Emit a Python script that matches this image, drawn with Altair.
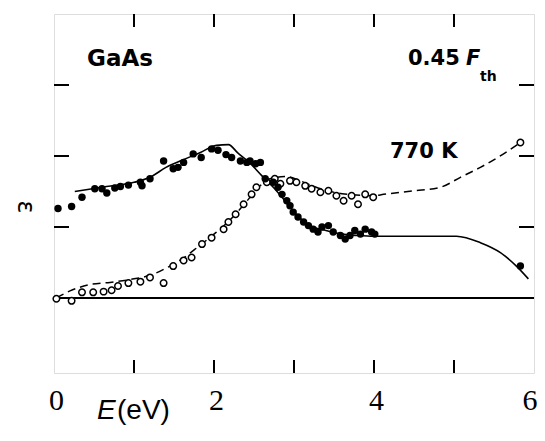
import altair as alt
import pandas as pd

# ---- data ----
# filled circles
filled_x = [0.05, 0.22, 0.35, 0.51, 0.60, 0.66, 0.76, 0.83, 0.93, 1.08, 1.10, 1.20, 1.37, 1.49, 1.55,
            1.62, 1.74, 1.84, 1.97, 2.05, 2.15, 2.22, 2.33, 2.41, 2.45, 2.52, 2.58,
            2.64, 2.74, 2.80, 2.85, 2.91, 2.95, 2.99, 3.05, 3.12, 3.18, 3.24, 3.30, 3.35,
            3.43, 3.49, 3.58, 3.64, 3.70, 3.76, 3.83, 3.89, 3.97, 4.01, 5.83]
filled_y = [1.26, 1.29, 1.42, 1.54, 1.54, 1.48, 1.55, 1.57, 1.59, 1.63, 1.58, 1.68, 1.93, 1.82, 1.84,
            1.91, 2.03, 1.98, 2.10, 2.08, 2.02, 1.98, 1.93, 1.91, 1.93, 1.89, 1.91,
            1.68, 1.63, 1.56, 1.46, 1.37, 1.30, 1.21, 1.14, 1.07, 1.02, 0.97, 0.93, 1.00,
            1.02, 0.93, 0.88, 0.83, 0.88, 0.95, 0.90, 0.97, 0.93, 0.90, 0.45]

# open circles
open_x = [0.03, 0.22, 0.35, 0.49, 0.62, 0.72, 0.80, 0.93, 1.08, 1.20, 1.37, 1.49, 1.62, 1.72,
          1.85, 1.97, 2.12, 2.18, 2.27, 2.37, 2.47, 2.53, 2.66, 2.76, 2.83, 2.95, 3.03,
          3.14, 3.22, 3.33, 3.43, 3.53, 3.62, 3.72, 3.80, 3.89, 3.99, 5.83]
open_y = [-0.01, -0.04, 0.08, 0.08, 0.09, 0.11, 0.17, 0.21, 0.23, 0.29, 0.21, 0.45, 0.53, 0.57,
          0.76, 0.85, 0.97, 1.07, 1.18, 1.32, 1.46, 1.56, 1.63, 1.68, 1.61, 1.65, 1.63,
          1.58, 1.54, 1.49, 1.51, 1.44, 1.37, 1.44, 1.32, 1.46, 1.42, 2.19]

# solid fitted curve
solid_x = [0.26, 0.60, 1.00, 1.20, 1.40, 1.60, 1.83, 2.03, 2.18, 2.30, 2.45, 2.60, 2.75, 2.90,
           3.05, 3.20, 3.40, 3.60, 3.80, 4.00, 4.50, 5.03, 5.33, 5.58, 5.78, 5.93]
solid_y = [1.50, 1.56, 1.63, 1.70, 1.84, 1.94, 2.05, 2.15, 2.16, 2.04, 1.90, 1.72, 1.55, 1.35,
           1.15, 1.02, 0.95, 0.90, 0.88, 0.87, 0.87, 0.87, 0.78, 0.64, 0.45, 0.27]

# dashed fitted curve
dash_x = [0.03, 0.20, 0.45, 0.70, 1.00, 1.20, 1.40, 1.60, 1.80, 2.00, 2.20, 2.40, 2.55, 2.70,
          2.90, 3.10, 3.30, 3.60, 4.00, 4.12, 4.49, 4.83, 5.08, 5.33, 5.62, 5.87]
dash_y = [0.00, 0.10, 0.19, 0.22, 0.27, 0.32, 0.42, 0.55, 0.72, 0.90, 1.10, 1.35, 1.55, 1.68,
          1.71, 1.64, 1.55, 1.47, 1.44, 1.46, 1.51, 1.56, 1.70, 1.84, 2.03, 2.22]

x_tick_labels = [0, 2, 4, 6]
x_minor_ticks = [1, 2, 3, 4, 5]
y_ticks = [1, 2, 3]

XD = [0, 6]
YD = [-1.056, 4.0]
W, H = 480, 359

xs = alt.Scale(domain=XD, nice=False, zero=False)
ys = alt.Scale(domain=YD, nice=False, zero=False)

df_f = pd.DataFrame({"x": filled_x, "y": filled_y})
df_o = pd.DataFrame({"x": open_x, "y": open_y})
df_s = pd.DataFrame({"x": solid_x, "y": solid_y})
df_d = pd.DataFrame({"x": dash_x, "y": dash_y})
df_xt = pd.DataFrame({"x": x_minor_ticks})
df_yt = pd.DataFrame({"y": y_ticks})

X = alt.X("x:Q", scale=xs,
          axis=alt.Axis(values=x_tick_labels, ticks=False, domain=False, grid=False,
                        labelFont="Liberation Sans Narrow", labelFontSize=30,
                        labelColor="black", labelPadding=12, labelFlush=False, title=None,
                        labelAlign={"condition": {"test": "datum.value == 6", "value": "right"},
                                    "value": "center"},
                        labelOffset={"condition": {"test": "datum.value == 6", "value": 3},
                                     "value": 2}))
Y = alt.Y("y:Q", scale=ys, axis=None)

solid = alt.Chart(df_s).mark_line(color="black", strokeWidth=1.6, interpolate="monotone").encode(x=X, y=Y)
dashed = alt.Chart(df_d).mark_line(color="black", strokeWidth=1.5, strokeDash=[8, 5],
                                   interpolate="monotone").encode(x=X, y=Y)
zero = alt.Chart(pd.DataFrame({"y": [0]})).mark_rule(color="black", strokeWidth=2).encode(y=Y)
opens = alt.Chart(df_o).mark_point(shape="circle", size=42, filled=False, fill="white",
                                   color="black", strokeWidth=1.5, opacity=1).encode(x=X, y=Y)
fills = alt.Chart(df_f).mark_circle(size=55, color="black", opacity=1).encode(x=X, y=Y)

tick_bot = alt.Chart(df_xt).mark_rule(color="black", strokeWidth=2).encode(
    x=X, y=alt.value(H), y2=alt.value(H - 13))
tick_top = alt.Chart(df_xt).mark_rule(color="black", strokeWidth=2).encode(
    x=X, y=alt.value(0), y2=alt.value(13))
tick_left = alt.Chart(df_yt).mark_rule(color="black", strokeWidth=2).encode(
    y=Y, x=alt.value(0), x2=alt.value(15))
tick_right = alt.Chart(df_yt).mark_rule(color="black", strokeWidth=2).encode(
    y=Y, x=alt.value(W - 15), x2=alt.value(W))

def txt(s, x, y, size, font="DejaVu Sans", weight="bold", style="normal",
        align="left", baseline="middle", angle=0):
    return alt.Chart(pd.DataFrame({"t": [s]})).mark_text(
        font=font, fontSize=size, fontWeight=weight, fontStyle=style, align=align,
        baseline=baseline, angle=angle, color="black").encode(
        text="t:N", x=alt.value(x), y=alt.value(y))

texts = [
    txt("GaAs", 33, 45, 23),
    txt("0.45", 354, 45, 21),
    txt("F", 412, 45, 21, style="italic"),
    txt("th", 426, 63, 14),
    txt("770 K", 336, 138, 21),
    txt("E", 43, 405, 28, font="Liberation Sans", weight="normal", style="italic", baseline="alphabetic"),
    txt("(eV)", 63, 405, 28, font="Liberation Sans", weight="normal", baseline="alphabetic"),
    txt("ε", -29, 193, 24, weight="normal", align="center", angle=90),
]

chart = alt.layer(solid, dashed, zero, opens, fills, tick_bot, tick_top, tick_left, tick_right,
                  *texts).properties(
    width=W, height=H,
    autosize=alt.AutoSizeParams(type="none"),
    padding={"left": 46, "top": 6, "right": 3, "bottom": 55},
).configure_view(stroke="black", strokeWidth=2).configure(background="white")

chart.save("out.html", embed_options={"renderer": "svg", "actions": False})
